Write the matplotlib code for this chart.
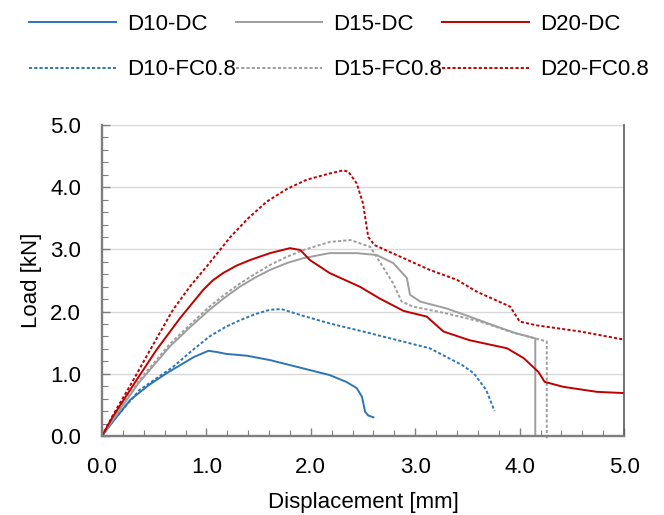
import matplotlib
matplotlib.use("Agg")
import matplotlib.pyplot as plt
from matplotlib.ticker import MultipleLocator, FormatStrFormatter

plt.rcParams["font.family"] = ["Liberation Sans", "DejaVu Sans"]

d10_dc_x = [0.0, 0.1, 0.27, 0.45, 0.62, 0.75, 0.88, 1.02, 1.10, 1.19, 1.39, 1.61, 1.80, 1.99, 2.18, 2.34, 2.44, 2.49, 2.52, 2.55, 2.60]
d10_dc_y = [0.0, 0.22, 0.58, 0.82, 1.01, 1.14, 1.27, 1.37, 1.35, 1.32, 1.29, 1.22, 1.14, 1.06, 0.98, 0.87, 0.77, 0.63, 0.39, 0.33, 0.30]

d10_fc_x = [0.0, 0.1, 0.36, 0.68, 0.86, 1.03, 1.18, 1.32, 1.47, 1.61, 1.72, 1.93, 2.18, 2.50, 2.76, 3.14, 3.30, 3.45, 3.56, 3.68, 3.76]
d10_fc_y = [0.0, 0.23, 0.74, 1.11, 1.37, 1.60, 1.75, 1.86, 1.96, 2.03, 2.04, 1.93, 1.81, 1.68, 1.57, 1.41, 1.27, 1.14, 1.01, 0.74, 0.40]

d15_dc_x = [0.0, 0.1, 0.35, 0.65, 0.85, 1.03, 1.18, 1.32, 1.47, 1.61, 1.77, 1.93, 2.18, 2.44, 2.63, 2.79, 2.92, 2.95, 3.05, 3.30, 3.52, 3.78, 3.97, 4.15, 4.15, 4.20]
d15_dc_y = [0.0, 0.25, 0.85, 1.44, 1.76, 2.03, 2.23, 2.40, 2.55, 2.67, 2.78, 2.86, 2.94, 2.94, 2.91, 2.78, 2.54, 2.27, 2.16, 2.05, 1.92, 1.76, 1.65, 1.57, 0.0, 0.0]

d15_fc_x = [0.0, 0.1, 0.35, 0.65, 0.85, 1.03, 1.18, 1.32, 1.47, 1.61, 1.77, 1.93, 2.18, 2.38, 2.57, 2.69, 2.79, 2.87, 2.98, 3.30, 3.62, 3.94, 4.26, 4.26]
d15_fc_y = [0.0, 0.26, 0.88, 1.48, 1.80, 2.08, 2.28, 2.45, 2.61, 2.75, 2.88, 2.99, 3.12, 3.15, 3.04, 2.72, 2.45, 2.16, 2.08, 1.97, 1.84, 1.66, 1.52, -0.05]

d20_dc_x = [0.0, 0.1, 0.30, 0.52, 0.75, 0.97, 1.06, 1.16, 1.29, 1.42, 1.61, 1.80, 1.90, 1.99, 2.18, 2.47, 2.66, 2.89, 3.11, 3.27, 3.52, 3.88, 4.04, 4.18, 4.24, 4.42, 4.74, 5.00]
d20_dc_y = [0.0, 0.30, 0.82, 1.38, 1.90, 2.35, 2.50, 2.62, 2.74, 2.83, 2.94, 3.02, 2.99, 2.83, 2.62, 2.40, 2.21, 2.01, 1.92, 1.68, 1.54, 1.41, 1.25, 1.03, 0.87, 0.79, 0.71, 0.69]

d20_fc_x = [0.0, 0.1, 0.30, 0.50, 0.68, 0.85, 1.00, 1.23, 1.40, 1.58, 1.77, 1.96, 2.18, 2.31, 2.36, 2.44, 2.50, 2.55, 2.61, 2.82, 3.14, 3.40, 3.59, 3.91, 4.00, 4.16, 4.58, 5.00]
d20_fc_y = [0.0, 0.32, 0.90, 1.50, 2.03, 2.42, 2.72, 3.20, 3.50, 3.77, 3.97, 4.12, 4.22, 4.27, 4.25, 4.06, 3.74, 3.20, 3.07, 2.91, 2.67, 2.51, 2.32, 2.08, 1.84, 1.78, 1.68, 1.55]

BLUE = "#2E75B6"
GREY = "#9E9E9E"
RED = "#C00000"
DOT = (0, (1.6, 1.1))
FS = 16

fig = plt.figure(figsize=(6.64, 5.15), dpi=100)
ax = fig.add_axes([0.1536, 0.1534, 0.7862, 0.6039])

ax.plot(d10_dc_x, d10_dc_y, color=BLUE, lw=1.4, label="D10-DC")
ax.plot(d10_fc_x, d10_fc_y, color=BLUE, lw=1.4, ls=DOT, label="D10-FC0.8")
ax.plot(d15_dc_x, d15_dc_y, color=GREY, lw=1.4, label="D15-DC")
ax.plot(d15_fc_x, d15_fc_y, color=GREY, lw=1.4, ls=DOT, label="D15-FC0.8", clip_on=False)
ax.plot(d20_dc_x, d20_dc_y, color=RED, lw=1.4, label="D20-DC")
ax.plot(d20_fc_x, d20_fc_y, color=RED, lw=1.4, ls=DOT, label="D20-FC0.8")

ax.set_xlim(0, 5)
ax.set_ylim(0, 5)
ax.xaxis.set_major_locator(MultipleLocator(1.0))
ax.yaxis.set_major_locator(MultipleLocator(1.0))
ax.xaxis.set_minor_locator(MultipleLocator(0.2))
ax.yaxis.set_minor_locator(MultipleLocator(0.2))
ax.xaxis.set_major_formatter(FormatStrFormatter("%.1f"))
ax.yaxis.set_major_formatter(FormatStrFormatter("%.1f"))
ax.tick_params(which="both", direction="in", colors="#7F7F7F", labelcolor="black", labelsize=FS)
ax.tick_params(which="major", length=6, width=1.0, pad=15)
ax.tick_params(which="minor", length=4, width=0.8)

ax.grid(axis="y", which="major", color="#D9D9D9", lw=1.0)
ax.set_axisbelow(True)

ax.spines["top"].set_visible(False)
for side in ("left", "bottom"):
    ax.spines[side].set_color("#7F7F7F")
    ax.spines[side].set_linewidth(1.7)
ax.spines["right"].set_color("#595959")
ax.spines["right"].set_linewidth(1.2)

ax.set_xlabel("Displacement [mm]", fontsize=FS, labelpad=10)
ax.set_ylabel("Load [kN]", fontsize=FS, labelpad=6)

fig.legend(loc="upper left", bbox_to_anchor=(29 / 664, 1 - 14 / 515), ncol=3, frameon=False,
           fontsize=FS, handlelength=3.9, handletextpad=0.5, columnspacing=0.0,
           labelspacing=1.1, borderpad=0, borderaxespad=0)

fig.savefig("out.png", dpi=100)
